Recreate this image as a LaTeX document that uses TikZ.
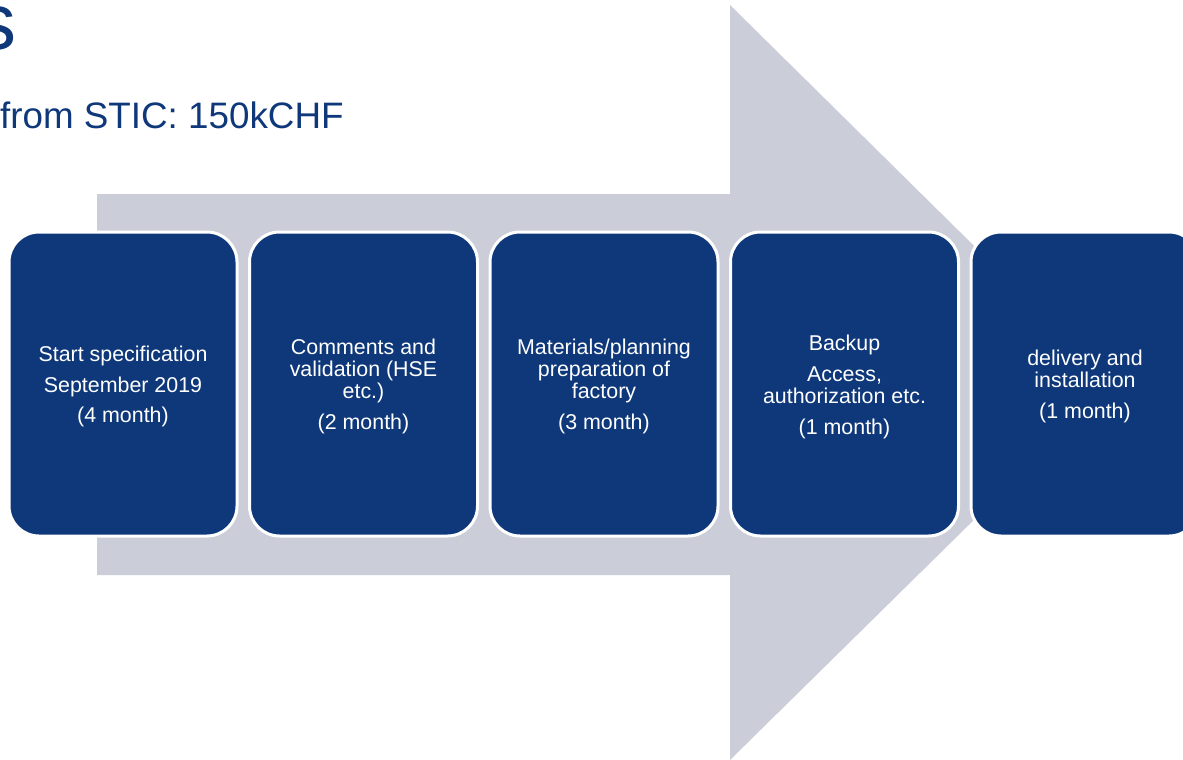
\documentclass[tikz,border=0pt]{standalone}
\usepackage{fontspec}
\setmainfont{Liberation Sans}
\usetikzlibrary{positioning}
\definecolor{stepblue}{HTML}{0E387A}
\definecolor{arrowgray}{HTML}{CBCED9}
\definecolor{titleblue}{HTML}{0E387A}
\newcommand{\phasestrut}{\rule{0pt}{10.6pt}}
\tikzstyle{phase} = [rectangle, rounded corners=15pt, draw=white, line width=1.5pt, fill=stepblue, text=white, align=center, minimum width=114pt, minimum height=152pt, inner sep=0pt, font=\fontsize{10.7}{11}\selectfont]
\tikzstyle{heading} = [text=titleblue, inner sep=0pt]
\begin{document}
\begin{tikzpicture}[x=0.5pt, y=-0.5pt, node distance=4.75pt]

    \useasboundingbox (0,0) rectangle (1183,760);

    % big arrow behind the steps
    \fill [arrowgray] (97,194) -- (730,194) -- (730,5) -- (1113,383) -- (730,760) -- (730,575) -- (97,575) -- cycle;

    \node (title) [heading, anchor=base east, font=\fontsize{40}{48}\selectfont] at (17,49) {s};
    \node (budget) [heading, anchor=base east, font=\fontsize{18.4}{22}\selectfont] at (344,128) {from STIC: 150kCHF};

    \node (spec) [phase] at (123,384) {\phasestrut Start specification\\[4.2pt] September 2019\\[4.2pt] (4 month)};
    \node (review) [phase, right=of spec] {\phasestrut Comments and\\ validation (HSE\\ etc.)\\[4.5pt] (2 month)};
    \node (factory) [phase, right=of review] {\phasestrut Materials/planning\\ preparation of\\ factory\\[4.5pt] (3 month)};
    \node (access) [phase, right=of factory] {\phasestrut Backup\\[4.5pt] Access,\\ authorization etc.\\[4.5pt] (1 month)};
    \node (install) [phase, right=of access] {\phasestrut delivery and\\ installation\\[4.5pt] (1 month)};

\end{tikzpicture}
\end{document}
